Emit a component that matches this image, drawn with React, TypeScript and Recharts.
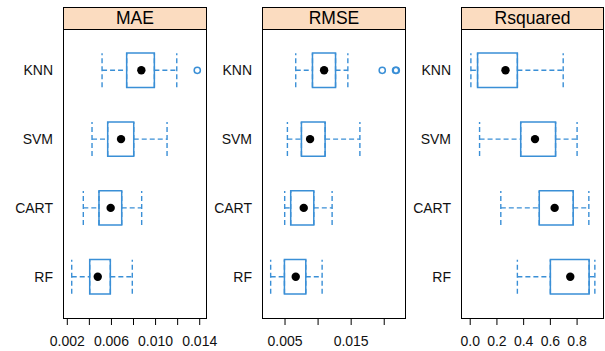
import React from 'react';
import { ComposedChart, Scatter, ErrorBar, XAxis, YAxis, ReferenceArea } from 'recharts';

// Models from bottom (y=1) to top (y=4)
const models = ['RF', 'CART', 'SVM', 'KNN'];
const metricNames = ['MAE', 'RMSE', 'Rsquared'];

// MAE
const maeWhiskerLow = [0.0024, 0.00345, 0.00424, 0.00515];
const maeQ1 = [0.00403, 0.00487, 0.00566, 0.00738];
const maeMedian = [0.00476, 0.00593, 0.00687, 0.00871];
const maeQ3 = [0.0059, 0.00693, 0.00802, 0.00989];
const maeWhiskerHigh = [0.00789, 0.00874, 0.01104, 0.01192];
const maeOutlierModel = ['KNN'];
const maeOutlierValue = [0.01378];
const maeTicks = [0.002, 0.004, 0.006, 0.008, 0.01, 0.012, 0.014];
const maeTickLabels = ['0.002', '', '0.006', '', '0.010', '', '0.014'];

// RMSE
const rmseWhiskerLow = [0.00283, 0.00495, 0.00536, 0.00662];
const rmseQ1 = [0.00491, 0.00586, 0.00748, 0.00915];
const rmseMedian = [0.00662, 0.00783, 0.00879, 0.01091];
const rmseQ3 = [0.00814, 0.00935, 0.01106, 0.01264];
const rmseWhiskerHigh = [0.01061, 0.01212, 0.01632, 0.0145];
const rmseOutlierModel = ['KNN', 'KNN', 'KNN'];
const rmseOutlierValue = [0.0197, 0.02172, 0.02182];
const rmseTicks = [0.005, 0.01, 0.015, 0.02];
const rmseTickLabels = ['0.005', '', '0.015', ''];

// Rsquared
const rsqWhiskerLow = [0.353, 0.229, 0.07, 0.005];
const rsqQ1 = [0.6, 0.517, 0.378, 0.055];
const rsqMedian = [0.749, 0.632, 0.485, 0.264];
const rsqQ3 = [0.89, 0.771, 0.639, 0.353];
const rsqWhiskerHigh = [0.933, 0.888, 0.8, 0.696];
const rsqOutlierModel: string[] = [];
const rsqOutlierValue: number[] = [];
const rsqTicks = [0, 0.2, 0.4, 0.6, 0.8];
const rsqTickLabels = ['0.0', '0.2', '0.4', '0.6', '0.8'];

const BLUE = '#3a8fd6';
const STRIP = '#fbdcc0';
const FONT = '"Liberation Sans", Arial, Helvetica, sans-serif';
const W = 605;
const H = 351;
const STRIP_TOP = 7;
const PLOT_TOP = 29;
const PLOT_BOTTOM = 318;

type PanelProps = {
  title: string;
  wlo: number[];
  q1: number[];
  med: number[];
  q3: number[];
  whi: number[];
  outModel: string[];
  outValue: number[];
  domain: [number, number];
  ticks: number[];
  tickLabels: string[];
  left: number;
  right: number;
};

function Panel(p: PanelProps) {
  const mids = models.map((m, i) => ({ x: p.med[i], y: i + 1 }));
  const lefts = models.map((m, i) => ({ x: p.q1[i], y: i + 1, err: [p.q1[i] - p.wlo[i], 0] }));
  const rights = models.map((m, i) => ({ x: p.q3[i], y: i + 1, err: [0, p.whi[i] - p.q3[i]] }));
  const outs = p.outModel.map((m, i) => ({ x: p.outValue[i], y: models.indexOf(m) + 1 }));
  const fmtX = (v: number) => {
    const k = p.ticks.findIndex((t) => Math.abs(t - v) < 1e-9);
    return k >= 0 ? p.tickLabels[k] : '';
  };
  return (
    <>
      <div
        style={{
          position: 'absolute',
          left: p.left,
          top: STRIP_TOP,
          width: p.right - p.left + 1,
          height: PLOT_BOTTOM - STRIP_TOP + 1,
          border: '1px solid #000',
          boxSizing: 'border-box',
        }}
      />
      <div
        style={{
          position: 'absolute',
          left: p.left,
          top: STRIP_TOP,
          width: p.right - p.left + 1,
          height: PLOT_TOP - STRIP_TOP + 1,
          background: STRIP,
          border: '1px solid #000',
          boxSizing: 'border-box',
          textAlign: 'center',
          fontSize: 17.5,
          lineHeight: `${PLOT_TOP - STRIP_TOP - 1}px`,
          color: '#000',
        }}
      >
        {p.title}
      </div>
      <div style={{ position: 'absolute', left: 0, top: 0 }}>
        <ComposedChart
          width={W}
          height={H}
          margin={{ top: PLOT_TOP, right: W - p.right, bottom: 0, left: p.left - 60 }}
        >
          <XAxis
            type="number"
            dataKey="x"
            domain={p.domain}
            allowDataOverflow
            ticks={p.ticks}
            interval={0}
            tickFormatter={fmtX}
            axisLine={false}
            tickLine={{ stroke: '#000' }}
            tickSize={7}
            tickMargin={11.5}
            height={H - PLOT_BOTTOM}
            tick={{ fontSize: 14, fill: '#111' }}
          />
          <YAxis
            type="number"
            dataKey="y"
            domain={[0.4, 4.6]}
            allowDataOverflow
            ticks={[1, 2, 3, 4]}
            interval={0}
            tickFormatter={(v: number) => models[Math.round(v) - 1]}
            axisLine={false}
            tickLine={false}
            tickSize={0}
            tickMargin={10}
            width={60}
            tick={{ fontSize: 14, fill: '#111' }}
          />
          {models.map((m, i) => (
            <ReferenceArea
              key={m}
              x1={p.q1[i]}
              x2={p.q3[i]}
              y1={i + 1 - 0.25}
              y2={i + 1 + 0.25}
              fill="none"
              fillOpacity={0}
              stroke={BLUE}
              strokeWidth={1.5}
              ifOverflow="visible"
            />
          ))}
          <Scatter data={lefts} isAnimationActive={false} shape={() => <g />}>
            <ErrorBar
              dataKey="err"
              direction="x"
              width={17}
              stroke={BLUE}
              strokeWidth={1.4}
              strokeDasharray="5 3"
              isAnimationActive={false}
            />
          </Scatter>
          <Scatter data={rights} isAnimationActive={false} shape={() => <g />}>
            <ErrorBar
              dataKey="err"
              direction="x"
              width={17}
              stroke={BLUE}
              strokeWidth={1.4}
              strokeDasharray="5 3"
              isAnimationActive={false}
            />
          </Scatter>
          <Scatter
            data={mids}
            isAnimationActive={false}
            shape={(s: any) => <circle cx={s.cx} cy={s.cy} r={4.2} fill="#000" />}
          />
          <Scatter
            data={outs}
            isAnimationActive={false}
            shape={(s: any) => (
              <circle cx={s.cx} cy={s.cy} r={3.1} fill="none" stroke={BLUE} strokeWidth={1.5} />
            )}
          />
        </ComposedChart>
      </div>
    </>
  );
}

export default function App() {
  return (
    <div
      style={{
        position: 'absolute',
        left: 0,
        top: 0,
        width: W,
        height: H,
        background: '#fff',
        fontFamily: FONT,
      }}
    >
      <Panel
        title={metricNames[0]}
        wlo={maeWhiskerLow}
        q1={maeQ1}
        med={maeMedian}
        q3={maeQ3}
        whi={maeWhiskerHigh}
        outModel={maeOutlierModel}
        outValue={maeOutlierValue}
        domain={[0.00161, 0.01457]}
        ticks={maeTicks}
        tickLabels={maeTickLabels}
        left={63}
        right={206}
      />
      <Panel
        title={metricNames[1]}
        wlo={rmseWhiskerLow}
        q1={rmseQ1}
        med={rmseMedian}
        q3={rmseQ3}
        whi={rmseWhiskerHigh}
        outModel={rmseOutlierModel}
        outValue={rmseOutlierValue}
        domain={[0.00152, 0.02314]}
        ticks={rmseTicks}
        tickLabels={rmseTickLabels}
        left={262}
        right={405}
      />
      <Panel
        title={metricNames[2]}
        wlo={rsqWhiskerLow}
        q1={rsqQ1}
        med={rsqMedian}
        q3={rsqQ3}
        whi={rsqWhiskerHigh}
        outModel={rsqOutlierModel}
        outValue={rsqOutlierValue}
        domain={[-0.069, 0.994]}
        ticks={rsqTicks}
        tickLabels={rsqTickLabels}
        left={461}
        right={603}
      />
    </div>
  );
}
